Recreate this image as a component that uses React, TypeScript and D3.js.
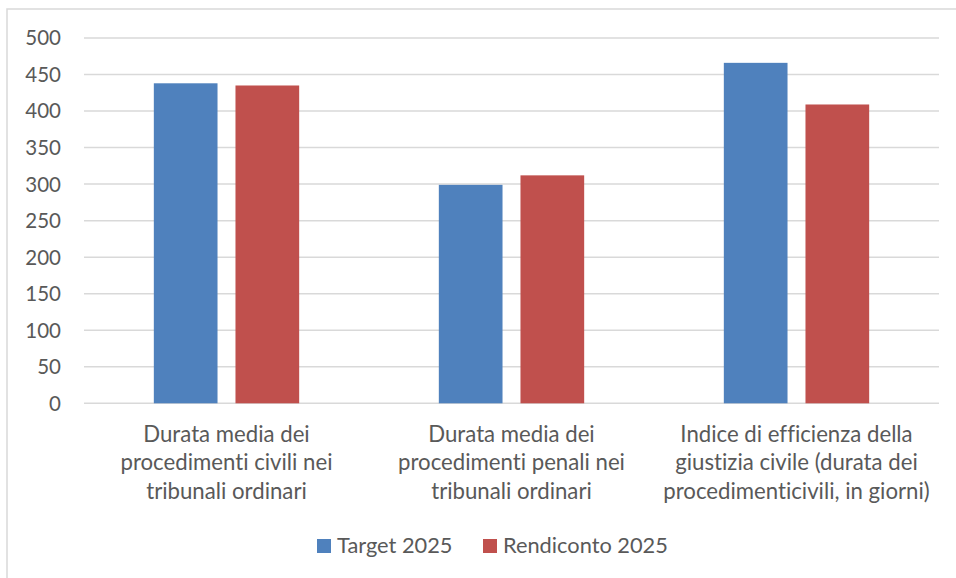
import React from "react";
import * as d3 from "d3";

const categories: string[][] = [
  ["Durata media dei", "procedimenti civili nei", "tribunali ordinari"],
  ["Durata media dei", "procedimenti penali nei", "tribunali ordinari"],
  ["Indice di efficienza della", "giustizia civile (durata dei", "procedimenticivili, in giorni)"],
];
const seriesNames = ["Target 2025", "Rendiconto 2025"];
const seriesColors = ["#4F81BD", "#C0504D"];
const target2025 = [438, 299, 466];
const rendiconto2025 = [435, 312, 409];
const yTicks = [0, 50, 100, 150, 200, 250, 300, 350, 400, 450, 500];

const W = 956;
const H = 578;
const FONT = "Lato, 'Open Sans', sans-serif";
const TEXT = "#595959";
const textStyle: React.CSSProperties = { fontVariantLigatures: "none", fontFeatureSettings: "'liga' 0, 'dlig' 0" };

export default function App() {
  const left = 84, right = 939, top = 38, bottom = 403.3;
  const y = d3.scaleLinear().domain([0, 500]).range([bottom, top]);
  const x0 = d3.scaleBand<number>().domain([0, 1, 2]).range([left, right]).paddingInner(0).paddingOuter(0);
  const groupW = x0.bandwidth() * 0.51;
  const x1 = d3.scaleBand<number>().domain([0, 1]).range([0, groupW]).paddingInner(0.22).paddingOuter(0);
  const series = [target2025, rendiconto2025];

  return (
    <svg width={W} height={H} style={{ position: "absolute", left: 0, top: 0, background: "#fff" }}>
      <rect x={7} y={9} width={W + 10} height={H + 10} fill="#fff" stroke="#d9d9d9" strokeWidth={1.5} />
      {yTicks.map((t) => (
        <g key={t}>
          <line x1={left} x2={right} y1={y(t)} y2={y(t)} stroke="#d9d9d9" strokeWidth={1.5} />
          <text x={61} y={y(t)} dy="0.36em" textAnchor="end" fontFamily={FONT} fontSize={20.5} fill={TEXT} style={textStyle}>
            {t}
          </text>
        </g>
      ))}
      {categories.map((cat, i) => {
        const gx = (x0(i) as number) + (x0.bandwidth() - groupW) / 2;
        return (
          <g key={i}>
            {series.map((s, j) => (
              <rect
                key={j}
                x={gx + (x1(j) as number)}
                y={y(s[i])}
                width={x1.bandwidth()}
                height={y(0) - y(s[i])}
                fill={seriesColors[j]}
              />
            ))}
            {cat.map((line, k) => (
              <text
                key={k}
                x={(x0(i) as number) + x0.bandwidth() / 2}
                y={442 + k * 28.4}
                textAnchor="middle"
                fontFamily={FONT}
                fontSize={22.2}
                fill={TEXT}
                style={textStyle}
              >
                {line}
              </text>
            ))}
          </g>
        );
      })}
      {seriesNames.map((name, j) => {
        const lx = [317, 483][j];
        return (
          <g key={name}>
            <rect x={lx} y={539} width={14} height={14} fill={seriesColors[j]} />
            <text x={lx + 20} y={552.5} fontFamily={FONT} fontSize={21.8} fill={TEXT} style={textStyle}>
              {name}
            </text>
          </g>
        );
      })}
    </svg>
  );
}
